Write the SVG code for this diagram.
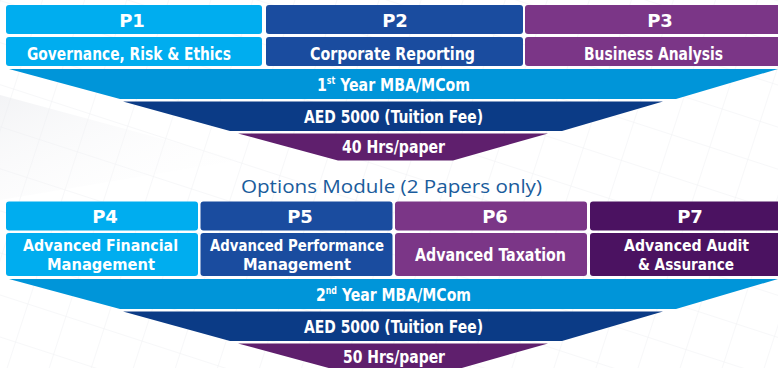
<svg xmlns="http://www.w3.org/2000/svg" width="778" height="368" viewBox="0 0 778 368">
<style>
.p{font-family:"DejaVu Sans","Verdana",sans-serif;font-weight:bold;font-size:18px;fill:#fff;text-anchor:middle}
.d{font-family:"DejaVu Sans Condensed","DejaVu Sans",sans-serif;font-stretch:condensed;font-weight:bold;font-size:18px;fill:#fff;text-anchor:middle}
.d2{font-size:16px}
.sup{font-size:10px}
.c1{fill:#00adef}.c2{fill:#1a4c9f}.c3{fill:#7b3687}.c4{fill:#4b1261}
.b1{fill:#0095d9}.b2{fill:#0b3b86}.b3{fill:#5f1f6d}
.opt{font-family:"Open Sans","Noto Sans",sans-serif;font-size:19px;fill:#1a5c9c;text-anchor:middle}
</style>
<defs>
<pattern id="grid" width="40" height="40" patternUnits="userSpaceOnUse" patternTransform="rotate(18)">
<path d="M0 0H40M0 0V40" fill="none" stroke="#dcdee3" stroke-width="1"/>
</pattern>
<linearGradient id="curl" x1="0" y1="0" x2="1" y2="1">
<stop offset="0" stop-color="#e9eaee" stop-opacity="0.9"/>
<stop offset="1" stop-color="#ffffff" stop-opacity="0"/>
</linearGradient>
</defs>
<rect width="778" height="368" fill="#ffffff"/>
<rect width="778" height="368" fill="url(#grid)" opacity="0.45"/>
<path d="M0 95 L240 160 L0 200 Z" fill="url(#curl)" opacity="0.6"/>

<g id="top-papers">
<g id="p1"><rect class="c1" x="6" y="5" width="256" height="29" rx="3"/><rect class="c1" x="6" y="37" width="256" height="29" rx="3"/>
<text class="p" x="132" y="27">P1</text><text class="d" x="129" y="60" textLength="204" lengthAdjust="spacingAndGlyphs">Governance, Risk &amp; Ethics</text></g>
<g id="p2"><rect class="c2" x="266" y="5" width="257" height="29" rx="3"/><rect class="c2" x="266" y="37" width="257" height="29" rx="3"/>
<text class="p" x="395" y="27">P2</text><text class="d" x="392.5" y="60" textLength="165" lengthAdjust="spacingAndGlyphs">Corporate Reporting</text></g>
<g id="p3"><rect class="c3" x="525" y="5" width="270" height="29" rx="3"/><rect class="c3" x="525" y="37" width="270" height="29" rx="3"/>
<text class="p" x="660" y="27">P3</text><text class="d" x="653.5" y="60" textLength="139" lengthAdjust="spacingAndGlyphs">Business Analysis</text></g>
</g>

<g id="year1">
<g id="band1"><path class="b1" d="M9 69 H778 L676 99 H120 Z"/>
<text class="d" x="393.5" y="91" textLength="153" lengthAdjust="spacingAndGlyphs">1<tspan class="sup" dy="-7">st</tspan><tspan dy="7"> Year MBA/MCom</tspan></text></g>
<g id="band2"><path class="b2" d="M123 101.5 H663 L562 131 H230 Z"/>
<text class="d" x="393.5" y="123" textLength="179" lengthAdjust="spacingAndGlyphs">AED 5000 (Tuition Fee)</text></g>
<g id="band3"><path class="b3" d="M238 133.5 H548 L453 160.5 H338 Z"/>
<text class="d" x="393.5" y="153" textLength="103" lengthAdjust="spacingAndGlyphs">40 Hrs/paper</text></g>
</g>

<text class="opt" x="391.5" y="193" textLength="301" lengthAdjust="spacingAndGlyphs">Options Module (2 Papers only)</text>

<g id="bottom-papers">
<g id="p4"><rect class="c1" x="6" y="201.5" width="192" height="29" rx="3"/><rect class="c1" x="6" y="233" width="192" height="43" rx="3"/>
<text class="p" x="105" y="223">P4</text>
<text class="d d2" x="100.5" y="251" textLength="155" lengthAdjust="spacingAndGlyphs">Advanced Financial</text>
<text class="d d2" x="101" y="269.5" textLength="108" lengthAdjust="spacingAndGlyphs">Management</text></g>
<g id="p5"><rect class="c2" x="200.5" y="201.5" width="192" height="29" rx="3"/><rect class="c2" x="200.5" y="233" width="192" height="43" rx="3"/>
<text class="p" x="300" y="223">P5</text>
<text class="d d2" x="297" y="251" textLength="174" lengthAdjust="spacingAndGlyphs">Advanced Performance</text>
<text class="d d2" x="297" y="269.5" textLength="108" lengthAdjust="spacingAndGlyphs">Management</text></g>
<g id="p6"><rect class="c3" x="395" y="201.5" width="192" height="29" rx="3"/><rect class="c3" x="395" y="233" width="192" height="43" rx="3"/>
<text class="p" x="495" y="223">P6</text>
<text class="d" x="490.5" y="260.5" textLength="151" lengthAdjust="spacingAndGlyphs">Advanced Taxation</text></g>
<g id="p7"><rect class="c4" x="590" y="201.5" width="200" height="29" rx="3"/><rect class="c4" x="590" y="233" width="200" height="43" rx="3"/>
<text class="p" x="690" y="223">P7</text>
<text class="d d2" x="686.5" y="251" textLength="125" lengthAdjust="spacingAndGlyphs">Advanced Audit</text>
<text class="d d2" x="686" y="269.5" textLength="96" lengthAdjust="spacingAndGlyphs">&amp; Assurance</text></g>
</g>

<g id="year2">
<g id="band4"><path class="b1" d="M9 279 H778 L676 309 H120 Z"/>
<text class="d" x="393.5" y="301" textLength="155" lengthAdjust="spacingAndGlyphs">2<tspan class="sup" dy="-7">nd</tspan><tspan dy="7"> Year MBA/MCom</tspan></text></g>
<g id="band5"><path class="b2" d="M123 311.5 H663 L562 341 H230 Z"/>
<text class="d" x="393.5" y="333" textLength="179" lengthAdjust="spacingAndGlyphs">AED 5000 (Tuition Fee)</text></g>
<g id="band6"><path class="b3" d="M238 343.5 H548 L453 370.5 H338 Z"/>
<text class="d" x="394" y="363" textLength="102" lengthAdjust="spacingAndGlyphs">50 Hrs/paper</text></g>
</g>
</svg>
